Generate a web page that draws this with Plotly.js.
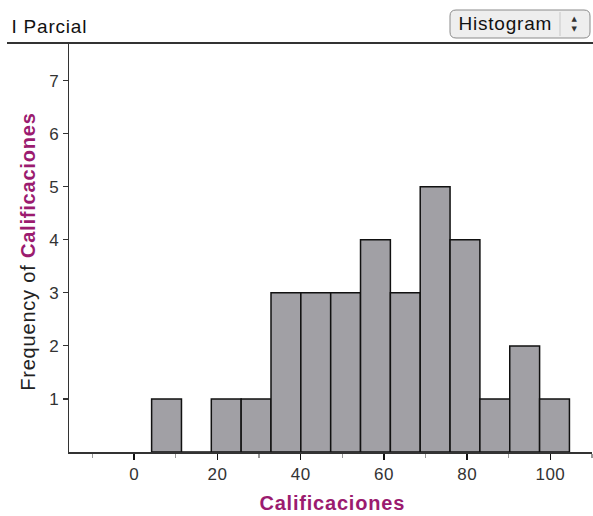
<!DOCTYPE html>
<html>
<head>
<meta charset="utf-8">
<script src="https://cdn.plot.ly/plotly-3.0.1.min.js"></script>
<style>
html,body{margin:0;padding:0;background:#fff;}
#chart{width:593px;height:516px;}
#chart .xtick text, #chart .ytick text { letter-spacing: 0.5px; }
#chart .annotation-text { letter-spacing: 0.8px; }
</style>
</head>
<body>
<div id="chart"></div>
<script>
// Data
const counts = [1, 0, 1, 1, 3, 3, 3, 4, 3, 5, 4, 1, 2, 1];
const binStart = 4.2;
const binWidth = 7.17;
const xTickVals = [0, 20, 40, 60, 80, 100];
const yTickVals = [1, 2, 3, 4, 5, 6, 7];
const panelTitle = "I Parcial";
const menuLabel = "Histogram";
const varName = "Calificaciones";

const centers = counts.map((c, i) => binStart + binWidth * (i + 0.5));

const W = 593, H = 516;
const L = 69, R = 1, T = 44, B = 64;
const pw = W - L - R, ph = H - T - B;
const px = x => (x - L) / pw;
const py = y => (H - B - y) / ph;

const purple = "#9b1b6f";
const font = "Liberation Sans, Arial, sans-serif";

function rrect(x0, y0, x1, y1, r) {
  const X = v => px(v), Y = v => py(v);
  return `M ${X(x0 + r)} ${Y(y0)} L ${X(x1 - r)} ${Y(y0)} Q ${X(x1)} ${Y(y0)} ${X(x1)} ${Y(y0 + r)} ` +
         `L ${X(x1)} ${Y(y1 - r)} Q ${X(x1)} ${Y(y1)} ${X(x1 - r)} ${Y(y1)} L ${X(x0 + r)} ${Y(y1)} ` +
         `Q ${X(x0)} ${Y(y1)} ${X(x0)} ${Y(y1 - r)} L ${X(x0)} ${Y(y0 + r)} Q ${X(x0)} ${Y(y0)} ${X(x0 + r)} ${Y(y0)} Z`;
}

const trace = {
  type: "bar",
  x: centers,
  y: counts,
  width: counts.map(() => binWidth),
  marker: { color: "#a1a0a5", line: { color: "#111", width: 1.5 } },
  hoverinfo: "x+y"
};

const layout = {
  width: W, height: H,
  margin: { l: L, r: R, t: T, b: B, pad: 0 },
  paper_bgcolor: "#fff", plot_bgcolor: "#fff",
  showlegend: false,
  bargap: 0,
  font: { family: font, size: 17, color: "#333" },
  xaxis: {
    range: [-15.65, 110],
    tickvals: xTickVals,
    ticks: "outside", ticklen: 6, tickwidth: 1.5, tickcolor: "#111",
    minor: { ticks: "outside", ticklen: 4, tickwidth: 1.2, tickcolor: "#999", dtick: 10, tick0: 0 },
    showline: true, linecolor: "#333", linewidth: 1.5,
    showgrid: false, zeroline: false,
    tickfont: { family: font, size: 17, color: "#333" }
  },
  yaxis: {
    range: [0, 7.69],
    tickvals: yTickVals,
    ticks: "outside", ticklen: 5, tickwidth: 1.2, tickcolor: "#333",
    showline: true, linecolor: "#333", linewidth: 1.5,
    showgrid: false, zeroline: false,
    tickfont: { family: font, size: 17, color: "#333" }
  },
  shapes: [
    { type: "line", xref: "paper", yref: "paper", x0: px(7), x1: px(593), y0: py(43), y1: py(43),
      line: { color: "#333", width: 2 } },
    { type: "path", xref: "paper", yref: "paper", path: rrect(450, 10, 590, 38, 6),
      fillcolor: "#eeeeee", line: { color: "#8a8a8a", width: 1 } },
    { type: "line", xref: "paper", yref: "paper", x0: px(560), x1: px(560), y0: py(12), y1: py(36),
      line: { color: "#c8c8c8", width: 1 } }
  ],
  annotations: [
    { xref: "paper", yref: "paper", x: px(13), y: py(27), xanchor: "left", yanchor: "middle",
      text: panelTitle, showarrow: false, font: { family: font, size: 19, color: "#111" } },
    { xref: "paper", yref: "paper", x: px(505), y: py(24), xanchor: "center", yanchor: "middle",
      text: menuLabel, showarrow: false, font: { family: font, size: 19, color: "#111" } },
    { xref: "paper", yref: "paper", x: px(575), y: py(19.5), xanchor: "center", yanchor: "middle",
      text: "▲", showarrow: false, font: { family: "DejaVu Sans", size: 7, color: "#333" } },
    { xref: "paper", yref: "paper", x: px(575), y: py(29), xanchor: "center", yanchor: "middle",
      text: "▼", showarrow: false, font: { family: "DejaVu Sans", size: 7, color: "#333" } },
    { xref: "paper", yref: "paper", x: px(332), y: py(503), xanchor: "center", yanchor: "middle",
      text: "<b>" + varName + "</b>", showarrow: false, font: { family: font, size: 20, color: purple } },
    { xref: "paper", yref: "paper", x: px(28), y: py(252), xanchor: "center", yanchor: "middle",
      textangle: -90,
      text: "Frequency of <b><span style='color:" + purple + "'>" + varName + "</span></b>",
      showarrow: false, font: { family: font, size: 20, color: "#222" } }
  ]
};

Plotly.newPlot("chart", [trace], layout, { displayModeBar: false, staticPlot: true });
</script>
</body>
</html>
